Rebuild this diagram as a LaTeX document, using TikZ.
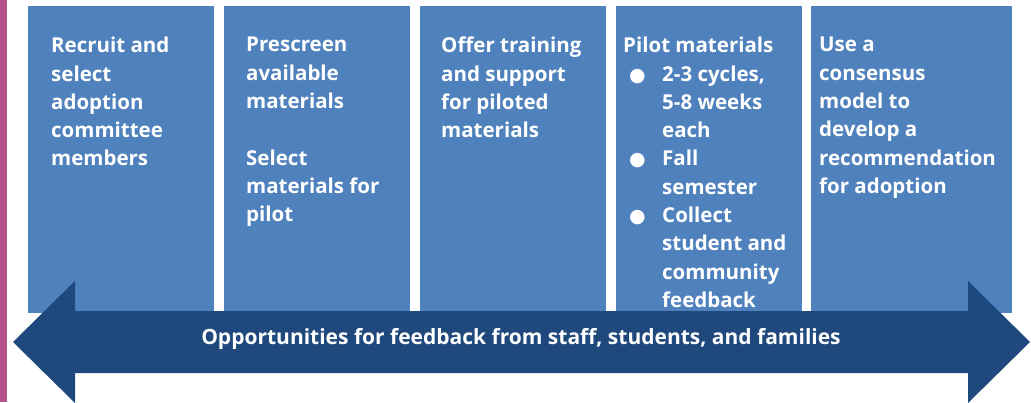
\documentclass[tikz,border=0pt]{standalone}
\usepackage{fontspec}
\setmainfont{Open Sans}
\newfontfamily\symbfont{DejaVu Sans}
\usetikzlibrary{positioning}
\definecolor{stageblue}{HTML}{4F81BD}
\definecolor{arrowblue}{HTML}{1F497D}
\definecolor{sidepink}{HTML}{B5528A}
\newcommand{\stagebul}{\makebox[39pt][l]{\hspace{6pt}{\symbfont\fontsize{19}{19}\selectfont ●}}}
\newcommand{\stageind}{\hspace*{39pt}}

\begin{document}
\begin{tikzpicture}[x=1pt,y=-1pt,
    stagebox/.style={fill=stageblue,minimum height=307pt,inner sep=0pt,outer sep=0pt,anchor=north west},
    stagetext/.style={text=white,font=\fontsize{20.5}{28.3}\selectfont\bfseries,align=left,inner sep=0pt,
        anchor=north west,execute at begin node=\rule{0pt}{16pt}}]
    \useasboundingbox (0,0) rectangle (1031,402);
    % side bar
    \fill[sidepink] (0,0) rectangle (7,402);
    % stage boxes
    \foreach \name/\x/\w in {box1/28/186,box2/224/186,box3/420/186,box4/616/186,box5/811/201}
        \node[stagebox,minimum width=\w pt] (\name) at (\x,6) {};
    \node[stagetext] (txt1) at ([xshift=23pt,yshift=-31pt]box1.north west)
        {Recruit and\\select\\adoption\\committee\\members};
    \node[stagetext] (txt2) at ([xshift=22pt,yshift=-31pt]box2.north west)
        {Prescreen\\available\\materials\\[28.3pt]Select\\materials for\\pilot};
    \node[stagetext] (txt3) at ([xshift=21pt,yshift=-31pt]box3.north west)
        {Offer training\\and support\\for piloted\\materials};
    \node[stagetext] (txt4) at ([xshift=7pt,yshift=-31pt]box4.north west)
        {Pilot materials\\\stagebul 2-3 cycles,\\\stageind 5-8 weeks\\\stageind each\\
         \stagebul Fall\\\stageind semester\\\stagebul Collect\\\stageind student and\\
         \stageind community\\\stageind feedback};
    \node[stagetext] (txt5) at ([xshift=8pt,yshift=-31pt]box5.north west)
        {Use a\\consensus\\model to\\develop a\\recommendation\\for adoption};
    % feedback arrow
    \fill[arrowblue] (13,342) -- (75,281) -- (75,311) -- (968,311) -- (968,281) -- (1030,342)
        -- (968,403) -- (968,373) -- (75,373) -- (75,403) -- cycle;
    \node[stagetext,anchor=center,font=\fontsize{21}{28}\selectfont\bfseries] (fb) at (521,339)
        {Opportunities for feedback from staff, students, and families};
\end{tikzpicture}
\end{document}
